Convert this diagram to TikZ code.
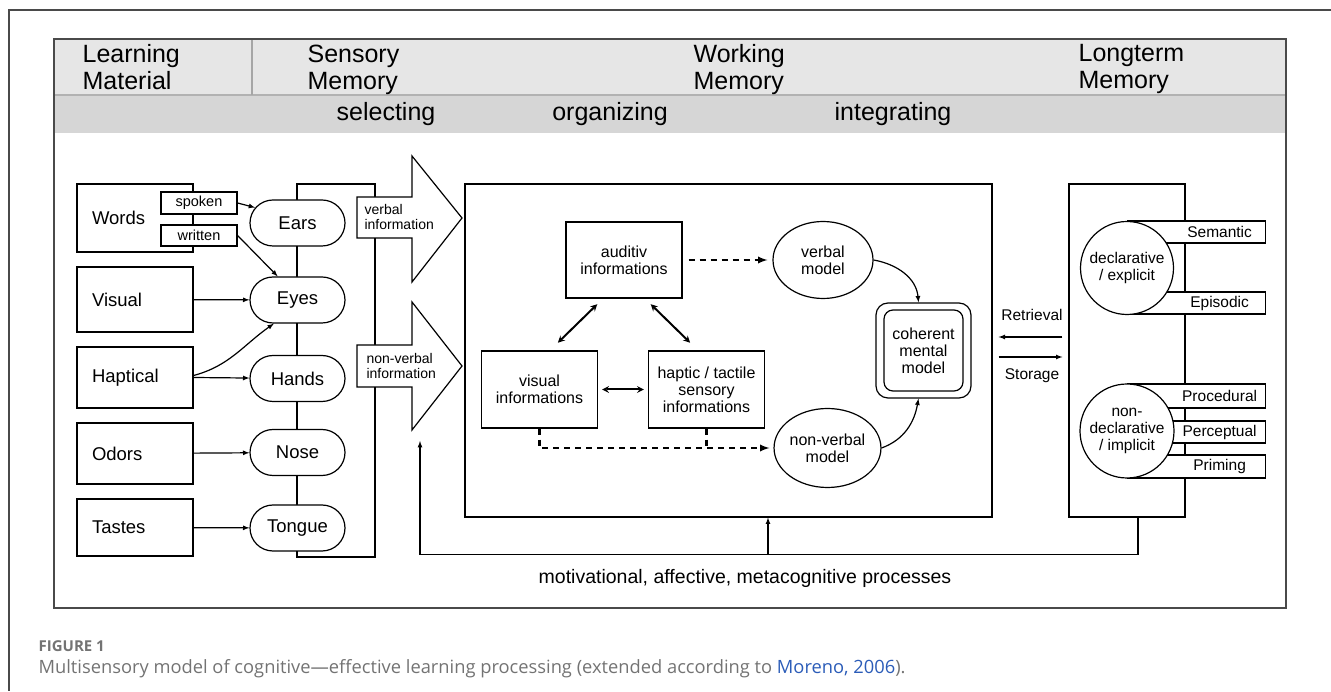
\documentclass[tikz,border=0pt]{standalone}
\usepackage{fontspec}
\setmainfont{Liberation Sans}
\newfontfamily\captionfont{Open Sans}
\usetikzlibrary{shapes.geometric, shapes.misc, arrows, calc}

\definecolor{bandlight}{HTML}{E6E6E6}
\definecolor{banddark}{HTML}{D6D6D6}
\definecolor{framegray}{HTML}{4A4A4A}
\definecolor{captiongray}{HTML}{737373}
\definecolor{linkblue}{HTML}{2B5CB8}

\newcommand{\headfont}{\fontsize{25}{27}\selectfont}
\newcommand{\bodyfont}{\fontsize{18.5}{21}\selectfont}
\newcommand{\smallfont}{\fontsize{14.5}{16}\selectfont}
\newcommand{\infofont}{\fontsize{14}{15}\selectfont}
\newcommand{\wmfont}{\fontsize{16}{17}\selectfont}
\newcommand{\tabfont}{\fontsize{15.5}{17}\selectfont}

\tikzstyle{material} = [rectangle, draw, fill=white,
minimum width=116pt,
text width=86pt,
inner xsep=15pt,
align=left,
font=\bodyfont]
\tikzstyle{wordtype} = [rectangle, draw, fill=white,
minimum width=76pt,
minimum height=22pt,
inner sep=0pt,
font=\smallfont]
\tikzstyle{sense} = [rounded rectangle, draw, fill=white,
minimum width=95pt,
minimum height=46pt,
inner sep=0pt,
font=\bodyfont]
\tikzstyle{infobox} = [rectangle, draw, fill=white,
minimum width=116pt,
minimum height=77pt,
inner sep=0pt,
align=center,
font=\wmfont]
\tikzstyle{model} = [ellipse, draw, fill=white,
minimum width=100pt,
minimum height=77pt,
inner sep=0pt,
align=center,
font=\wmfont]
\tikzstyle{mentalouter} = [rectangle, draw, rounded corners=12pt,
minimum width=95pt,
minimum height=95pt]
\tikzstyle{mentalinner} = [rectangle, draw, rounded corners=9pt,
minimum width=79pt,
minimum height=81pt,
inner sep=0pt,
align=center,
font=\wmfont]
\tikzstyle{memcircle} = [circle, draw, fill=white,
minimum size=93pt,
inner sep=0pt,
align=center,
font=\tabfont]
\tikzstyle{tab} = [rectangle, draw, fill=white,
minimum width=138pt,
minimum height=22pt,
inner sep=0pt,
anchor=west]
\tikzstyle{tabtext} = [xshift=23pt, inner sep=0pt, font=\tabfont]
\tikzstyle{header} = [anchor=north west, inner sep=0pt, align=left, font=\headfont]
\tikzstyle{arrow} = [->, >=latex]
\tikzstyle{linkarrow} = [<->, >=stealth, line width=2pt]
\tikzstyle{dashedline} = [line width=2.2pt, dash pattern=on 6pt off 5pt]
\tikzstyle{dashedarrow} = [dashedline, ->, >=latex]

\begin{document}
\begin{tikzpicture}[x=1pt, y=1pt, line width=1.2pt]
\useasboundingbox (0,0) rectangle (1331,691);

% frame and header bands
\draw[framegray, line width=1.5pt] (1331,681) -- (9,681) -- (9,0);
\fill[bandlight] (54,652) rectangle (1286,596);
\fill[banddark] (54,596) rectangle (1286,558);
\draw[gray!60] (54,596) -- (1286,596);
\draw[gray!70] (252,652) -- (252,596);
\draw[framegray, line width=2pt] (54,652) rectangle (1286,83);

\node (hmaterial) [header] at (82,647) {Learning\\Material};
\node (hsensory) [header] at (307,647) {Sensory\\Memory};
\node (hworking) [header] at (693,647) {Working\\Memory};
\node (hlongterm) [header] at (1078,647) {Longterm\\Memory};
\node (selecting) [font=\headfont] at (386,577) {selecting};
\node (organizing) [font=\headfont] at (610,577) {organizing};
\node (integrating) [font=\headfont] at (893,577) {integrating};

% learning material
\node (words) [material, minimum height=68pt] at (135,473) {Words};
\node (visual) [material, minimum height=65pt] at (135,391.5) {Visual};
\node (haptical) [material, minimum height=61pt] at (135,313.5) {Haptical};
\node (odors) [material, minimum height=61pt] at (135,237.5) {Odors};
\node (tastes) [material, minimum height=57pt] at (135,163.5) {Tastes};
\node (spoken) [wordtype] at (199,488) {spoken};
\node (written) [wordtype, minimum height=21pt] at (199,455.5) {written};

% sensory memory
\draw (297,507) rectangle (375,134);
\node (ears) [sense] at (297.5,468) {Ears};
\node (eyes) [sense] at (297.5,391) {Eyes};
\node (hands) [sense] at (297.5,312.5) {Hands};
\node (nose) [sense] at (297.5,238.5) {Nose};
\node (tongue) [sense] at (297.5,163) {Tongue};

\draw [arrow] (spoken.east) -- (ears.160);
\draw [arrow] (written.east) -- (eyes.130);
\draw [arrow] (visual) -- (eyes);
\draw [arrow] ([yshift=2pt]haptical.east) to[out=15, in=215] (eyes.225);
\draw [arrow] (haptical.east) -- (hands);
\draw [arrow] (odors) -- (nose);
\draw [arrow] (tastes) -- (tongue);

% selecting arrows
\draw[fill=white] (357,494) -- (412,494) -- (412,535) -- (462,473) -- (412,409) -- (412,453) -- (357,453) -- cycle;
\draw[fill=white] (357,346) -- (412,346) -- (412,389) -- (462,325) -- (412,261) -- (412,304) -- (357,304) -- cycle;
\node (verbalinfo) [anchor=west, align=left, inner sep=0pt, font=\infofont] at (364,473.5) {verbal\\information};
\node (nonverbalinfo) [anchor=west, align=left, inner sep=0pt, font=\infofont] at (366,325) {non-verbal\\information};
\coordinate (nvtip) at (420,250);

% working memory
\node (wm) [draw, minimum width=527pt, minimum height=333pt] at (728.5,340.5) {};
\node (auditiv) [infobox, minimum height=76pt] at (624,431) {auditiv\\informations};
\node (visinfo) [infobox] at (539.5,301.5) {visual\\informations};
\node (hapinfo) [infobox] at (706.5,301.5) {haptic / tactile\\sensory\\informations};
\node (verbal) [model] at (823,431) {verbal\\model};
\node (nonverbal) [model, minimum width=101pt, minimum height=79pt] at (827.5,243) {non-verbal\\model};
\node (coherent) [mentalouter] at (923.5,340.5) {};
\node (mental) [mentalinner] at (coherent) {coherent\\mental\\model};

\draw [linkarrow, shorten <=8pt, shorten >=11pt] ([xshift=-21pt]auditiv.south) -- ([xshift=10.5pt]visinfo.north);
\draw [linkarrow, shorten <=8pt, shorten >=11pt] ([xshift=21pt]auditiv.south) -- ([xshift=-8.5pt]hapinfo.north);
\draw [linkarrow, shorten <=4pt, shorten >=4pt] (visinfo) -- (hapinfo);
\draw [dashedarrow, shorten <=6pt, shorten >=5pt] (auditiv) -- (verbal);
\draw [dashedarrow, shorten >=4pt] (visinfo.south) |- (nonverbal.west);
\draw [dashedline] (hapinfo.south) -- (hapinfo.south |- nonverbal.west);
\draw [arrow] (verbal.east) to[out=-10, in=95] ([xshift=-5pt]coherent.north);
\draw [arrow] (nonverbal.east) to[out=20, in=-100] ([xshift=-5pt]coherent.south);

% longterm memory
\node (ltm) [draw, minimum width=116pt, minimum height=333pt] at (1127,340.5) {};
\node (semantic) [tab, label={[tabtext]center:Semantic}] at (1127,459) {};
\node (episodic) [tab, label={[tabtext]center:Episodic}] at (1127,388) {};
\node (procedural) [tab, minimum height=24pt, label={[tabtext]center:Procedural}] at (1127,295) {};
\node (perceptual) [tab, label={[tabtext]center:Perceptual}] at (1127,259) {};
\node (priming) [tab, minimum height=23pt, label={[tabtext]center:Priming}] at (1127,224.5) {};
\node (declarative) [memcircle] at (1127,423) {declarative\\/ explicit};
\node (nondeclarative) [memcircle, minimum size=94pt] at (1127,260) {non-\\declarative\\/ implicit};

\draw [arrow, shorten <=6pt, shorten >=6pt] (ltm.west |- 0,354) -- (wm.east |- 0,354);
\draw [arrow, shorten <=6pt, shorten >=6pt] (wm.east |- 0,334) -- (ltm.west |- 0,334);
\node (retrieval) [anchor=base, font=\tabfont] at (1032,370) {Retrieval};
\node (storage) [anchor=base, font=\tabfont] at (1032,311) {Storage};

% feedback loop
\coordinate (motive) at (768,137);
\draw [arrow] ([xshift=11pt]ltm.south) -- ++(0,-37) -| (nvtip);
\draw [arrow] (motive) -- (motive |- wm.south);
\node (motivation) [font=\fontsize{19.5}{22}\selectfont] at (745,113) {motivational, affective, metacognitive processes};

% caption
\node (figlabel) [anchor=base west, inner sep=0pt, text=captiongray, font=\captionfont\bfseries\fontsize{15}{18}\selectfont] at (38,39) {FIGURE 1};
\node (caption) [anchor=base west, inner sep=0pt, text=captiongray, font=\captionfont\fontsize{18.3}{21}\selectfont] at (38,17) {Multisensory model of cognitive—effective learning processing (extended according to \textcolor{linkblue}{Moreno, 2006}).};
\end{tikzpicture}
\end{document}
